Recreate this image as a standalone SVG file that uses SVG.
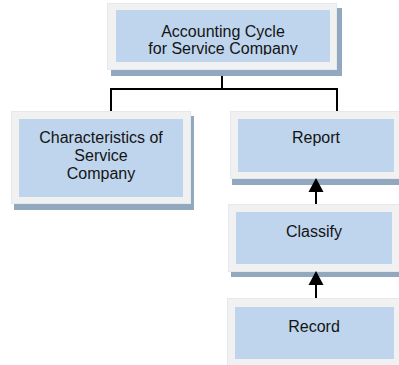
<svg xmlns="http://www.w3.org/2000/svg" width="399" height="365" viewBox="0 0 399 365">
  <defs>
    <style>
      .shadow { fill: #92a8bf; }
      .frame { fill: #f1f1f1; stroke: #e4e9ef; stroke-width: 1; }
      .inner { fill: #bed5ed; }
      .label { font-family: "Liberation Sans", Arial, sans-serif; font-size: 16px; fill: #141414; text-anchor: middle; }
      .wire { fill: none; stroke: #000; stroke-width: 2; }
      .head { fill: #000; }
    </style>
    <clipPath id="topClip">
      <rect x="116" y="10" width="214" height="45"/>
    </clipPath>
  </defs>

  <g id="node-cycle">
    <rect class="shadow" x="111" y="8" width="231" height="68"/>
    <rect class="frame" x="107.5" y="3.5" width="229" height="66"/>
    <rect class="inner" x="116" y="10" width="214" height="52"/>
    <g clip-path="url(#topClip)">
      <text class="label" x="223" y="37">Accounting Cycle</text>
      <text class="label" x="223" y="54">for Service Company</text>
    </g>
  </g>

  <g id="node-characteristics">
    <rect class="shadow" x="14" y="116" width="180" height="94"/>
    <rect class="frame" x="11.5" y="111.5" width="179" height="92"/>
    <rect class="inner" x="19" y="119" width="164" height="78"/>
    <text class="label" x="101" y="143">Characteristics of</text>
    <text class="label" x="101" y="161">Service</text>
    <text class="label" x="101" y="179">Company</text>
  </g>

  <g id="node-report">
    <rect class="shadow" x="232" y="116" width="172" height="69"/>
    <rect class="frame" x="230.5" y="111.5" width="172" height="67"/>
    <rect class="inner" x="238" y="119" width="156" height="53"/>
    <text class="label" x="316" y="143">Report</text>
  </g>

  <g id="node-classify">
    <rect class="shadow" x="231" y="209" width="174" height="68"/>
    <rect class="frame" x="228.5" y="204.5" width="174" height="67"/>
    <rect class="inner" x="236" y="212" width="156" height="52"/>
    <text class="label" x="314" y="237">Classify</text>
  </g>

  <g id="node-record">
    <rect class="frame" x="227.5" y="298.5" width="175" height="70"/>
    <rect class="inner" x="235" y="307" width="159" height="52"/>
    <text class="label" x="314" y="332">Record</text>
  </g>

  <!-- tree lines and upward flow arrows, drawn above the node shadows -->
  <g id="connectors">
    <path class="wire" d="M222 76 V89 M111 111 V89 H337 V111"/>
    <line class="wire" x1="316" y1="204" x2="316" y2="190"/>
    <polygon class="head" points="316,178 308.5,192 323.5,192"/>
    <line class="wire" x1="316" y1="298" x2="316" y2="283"/>
    <polygon class="head" points="316,271 308.5,285 323.5,285"/>
  </g>
</svg>
